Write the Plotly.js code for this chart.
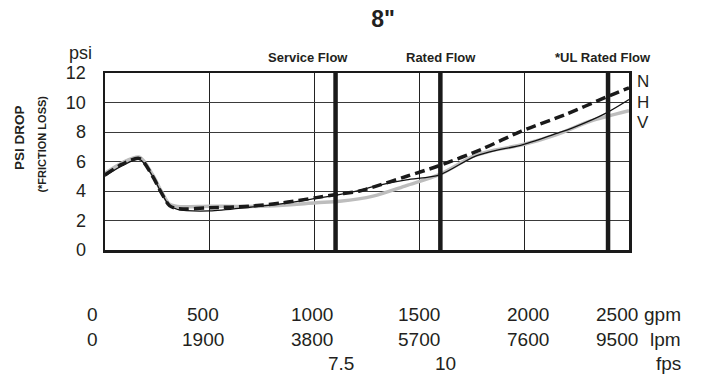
<!DOCTYPE html>
<html>
<head>
<meta charset="utf-8">
<script src="https://cdn.plot.ly/plotly-3.0.1.min.js"></script>
<style>
  html, body { margin: 0; padding: 0; background: #fff; }
  #chart { width: 703px; height: 376px; }
</style>
</head>
<body>
<div id="chart"></div>
<script>
// ---- data ----
const chartTitle = '8"';
const gpmTicks = [0, 500, 1000, 1500, 2000, 2500];
const gpmLabels = ['0', '500', '1000', '1500', '2000', '2500'];
const lpmLabels = ['0', '1900', '3800', '5700', '7600', '9500'];
const fpsAtGpm = [1128, 1625];
const fpsLabels = ['7.5', '10'];
const unitLabels = ['gpm', 'lpm', 'fps'];
const psiTicks = [0, 2, 4, 6, 8, 10, 12];
const flowMarks = [1100, 1600, 2400];
const flowLabels = ['Service Flow', 'Rated Flow', '*UL Rated Flow'];
const seriesNames = ['N', 'H', 'V'];

const nGpm = [0, 80, 165, 227, 268, 308, 346, 500, 690, 848, 1008, 1104, 1215, 1279, 1440, 1597, 1800, 1987, 2200, 2393, 2500];
const nPsi = [5.1, 5.8, 6.2, 5.0, 3.9, 3.0, 2.8, 2.86, 2.97, 3.2, 3.55, 3.76, 4.0, 4.26, 5.0, 5.73, 6.85, 8.06, 9.2, 10.38, 11.0];

const hGpm = [0, 80, 165, 227, 268, 308, 346, 500, 690, 848, 1008, 1104, 1215, 1279, 1438, 1597, 1757, 1836, 1995, 2155, 2234, 2393, 2500];
const hPsi = [5.0, 5.7, 6.15, 5.0, 3.9, 3.0, 2.75, 2.65, 2.9, 3.15, 3.5, 3.72, 4.05, 4.3, 4.75, 5.1, 6.3, 6.65, 7.15, 7.9, 8.3, 9.3, 10.2];

const vGpm = [0, 80, 165, 227, 268, 308, 346, 500, 690, 848, 1008, 1120, 1279, 1438, 1597, 1757, 1836, 1995, 2155, 2314, 2500];
const vPsi = [5.2, 5.9, 6.3, 5.1, 4.0, 3.1, 2.95, 2.97, 2.95, 3.04, 3.2, 3.3, 3.65, 4.37, 5.12, 6.36, 6.7, 7.15, 7.83, 8.73, 9.45];

// ---- chart ----
const FONT = '"Liberation Sans", Arial, Helvetica, sans-serif';
const INK = '#231f20';

const traces = [
  { x: vGpm, y: vPsi, name: seriesNames[2], mode: 'lines',
    line: { color: '#bdbdbd', width: 3.5, shape: 'spline', smoothing: 0.8 } },
  { x: hGpm, y: hPsi, name: seriesNames[1], mode: 'lines',
    line: { color: '#111', width: 1.3, shape: 'spline', smoothing: 0.8 } },
  { x: nGpm, y: nPsi, name: seriesNames[0], mode: 'lines',
    line: { color: '#1a1a1a', width: 3.5, dash: '10px,5px', shape: 'spline', smoothing: 0.8 } }
];

const shapes = flowMarks.map(v => ({
  type: 'line', xref: 'x', yref: 'paper', x0: v, x1: v, y0: 0, y1: 1,
  line: { color: '#1a1a1a', width: 4.5 }, layer: 'above'
}));

const annotations = [];
const colShift = [-13, -7, -3, 0, 4, -12];
const rowY = [-0.366, -0.505, -0.64];
gpmTicks.forEach((g, i) => {
  annotations.push({ x: g, y: rowY[0], xref: 'x', yref: 'paper', text: gpmLabels[i],
    showarrow: false, xanchor: 'center', yanchor: 'middle', xshift: colShift[i],
    font: { family: FONT, size: 19, color: INK } });
  annotations.push({ x: g, y: rowY[1], xref: 'x', yref: 'paper', text: lpmLabels[i],
    showarrow: false, xanchor: 'center', yanchor: 'middle', xshift: colShift[i],
    font: { family: FONT, size: 19, color: INK } });
});
fpsAtGpm.forEach((g, i) => {
  annotations.push({ x: g, y: rowY[2], xref: 'x', yref: 'paper', text: fpsLabels[i],
    showarrow: false, xanchor: 'center', yanchor: 'middle',
    font: { family: FONT, size: 19, color: INK } });
});
unitLabels.forEach((u, i) => {
  annotations.push({ x: 1.103, y: rowY[i], xref: 'paper', yref: 'paper', text: u,
    showarrow: false, xanchor: 'right', yanchor: 'middle',
    font: { family: FONT, size: 19, color: INK } });
});
const flowShift = [-28, 1, -5];
flowMarks.forEach((g, i) => {
  annotations.push({ x: g, y: 1.085, xref: 'x', yref: 'paper', text: '<b>' + flowLabels[i] + '</b>',
    showarrow: false, xanchor: 'center', yanchor: 'middle', xshift: flowShift[i],
    font: { family: FONT, size: 13, color: INK } });
});
const nameY = [0.952, 0.833, 0.720];
seriesNames.forEach((s, i) => {
  annotations.push({ x: 1, y: nameY[i], xref: 'paper', yref: 'paper', text: s,
    showarrow: false, xanchor: 'left', yanchor: 'middle', xshift: 6,
    font: { family: FONT, size: 17, color: INK } });
});
annotations.push({ x: -0.046, y: 1.113, xref: 'paper', yref: 'paper', text: 'psi',
  showarrow: false, xanchor: 'center', yanchor: 'middle',
  font: { family: FONT, size: 18, color: INK } });
annotations.push({ x: -0.162, y: 0.633, xref: 'paper', yref: 'paper', text: '<b>PSI DROP</b>',
  showarrow: false, textangle: -90, xanchor: 'center', yanchor: 'middle',
  font: { family: FONT, size: 13.5, color: INK } });
annotations.push({ x: -0.122, y: 0.596, xref: 'paper', yref: 'paper', text: '<b>(*FRICTION LOSS)</b>',
  showarrow: false, textangle: -90, xanchor: 'center', yanchor: 'middle',
  font: { family: FONT, size: 11, color: INK } });

const layout = {
  width: 703, height: 376,
  margin: { l: 105, r: 74, t: 73, b: 126 },
  paper_bgcolor: '#fff', plot_bgcolor: '#fff',
  showlegend: false,
  title: { text: '<b>' + chartTitle + '</b>', x: 0.545, xanchor: 'center', y: 0.95, yanchor: 'middle',
    font: { family: FONT, size: 23, color: INK } },
  xaxis: {
    range: [0, 2500], tickvals: gpmTicks, showticklabels: false, ticks: '',
    showgrid: true, gridcolor: '#222', gridwidth: 1, zeroline: false,
    showline: true, mirror: true, linecolor: '#1a1a1a', linewidth: 2.5
  },
  yaxis: {
    range: [0, 12], tickvals: psiTicks, ticktext: psiTicks.map(String), ticks: '',
    ticklabelstandoff: 13,
    tickfont: { family: FONT, size: 18, color: INK },
    showgrid: true, gridcolor: '#3a3a3a', gridwidth: 1, zeroline: false,
    showline: true, mirror: true, linecolor: '#1a1a1a', linewidth: 2.5
  },
  shapes: shapes,
  annotations: annotations
};

Plotly.newPlot('chart', traces, layout, { displayModeBar: false, staticPlot: true });
</script>
</body>
</html>
